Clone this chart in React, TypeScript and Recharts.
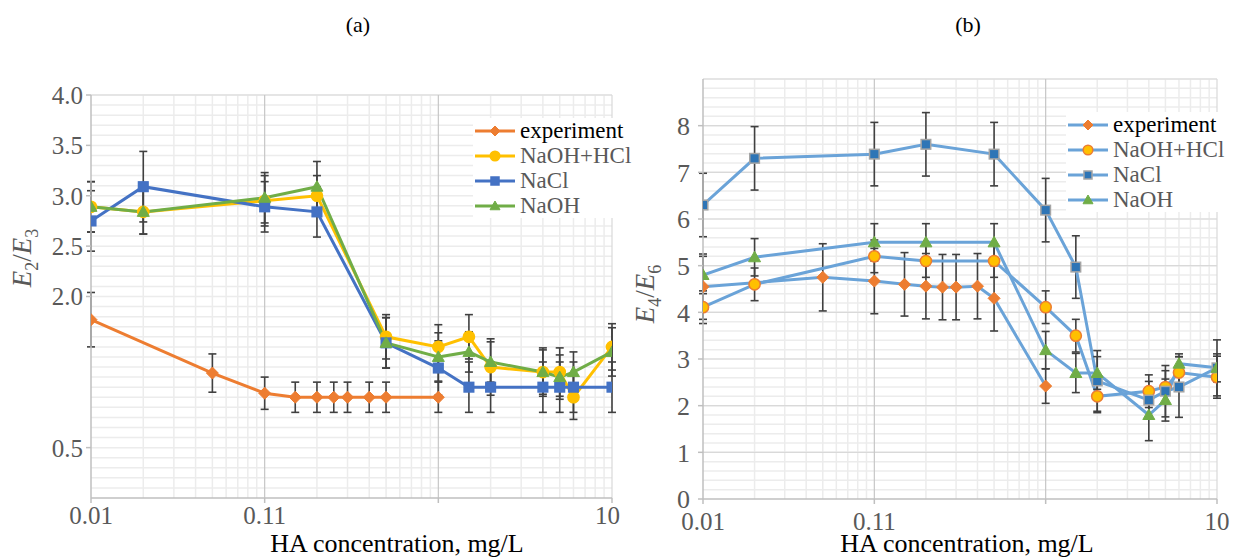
import React from "react";
import { CartesianGrid, ErrorBar, Legend, Line, LineChart, XAxis, YAxis } from "recharts";

const seriesNames = ["experiment", "NaOH+HCl", "NaCl", "NaOH"];
const xTicks = [0.01, 0.1, 1, 10];
const xTickLabels = ["0.01", "0.11", "", "10"];
const aTicks = [0.5, 2.0, 2.5, 3.0, 3.5, 4.0];
const bTicks = [0, 1, 2, 3, 4, 5, 6, 7, 8];

const expX = [0.01, 0.05, 0.1, 0.15, 0.2, 0.25, 0.3, 0.4, 0.5, 1];
const saltX = [0.01, 0.02, 0.1, 0.2, 0.5, 1, 1.5, 2, 4, 5, 6, 10];

// (a) E2/E3
const aExp = [1.77, 1.24, 1.04, 1.0, 1.0, 1.0, 1.0, 1.0, 1.0, 1.0];
const aExpErr = [0.27, 0.19, 0.16, 0.15, 0.15, 0.15, 0.15, 0.15, 0.15, 0.15];
const aHcl = [2.89, 2.84, 2.95, 3.0, 1.6, 1.5, 1.6, 1.3, 1.25, 1.25, 1.0, 1.5];
const aHclErr = [0.25, 0.22, 0.25, 0.2, 0.22, 0.22, 0.22, 0.28, 0.24, 0.24, 0.22, 0.23];
const aNacl = [2.75, 3.09, 2.89, 2.84, 1.54, 1.29, 1.1, 1.1, 1.1, 1.1, 1.1, 1.1];
const aNaclErr = [0.3, 0.35, 0.25, 0.25, 0.25, 0.27, 0.25, 0.25, 0.25, 0.25, 0.25, 0.25];
const aNaoh = [2.89, 2.84, 2.98, 3.09, 1.54, 1.4, 1.45, 1.35, 1.25, 1.2, 1.25, 1.45];
const aNaohErr = [0.25, 0.22, 0.25, 0.25, 0.25, 0.24, 0.2, 0.2, 0.22, 0.22, 0.2, 0.24];

// (b) E4/E6
const bExp = [4.55, 4.75, 4.67, 4.6, 4.56, 4.54, 4.54, 4.56, 4.3, 2.42];
const bExpErr = [0.7, 0.72, 0.7, 0.68, 0.7, 0.7, 0.7, 0.7, 0.7, 0.37];
const bHcl = [4.11, 4.6, 5.2, 5.1, 5.1, 4.11, 3.5, 2.2, 2.31, 2.4, 2.71, 2.61];
const bHclErr = [0.35, 0.35, 0.35, 0.35, 0.35, 0.35, 0.35, 0.35, 0.35, 0.35, 0.4, 0.45];
const bNacl = [6.3, 7.3, 7.39, 7.6, 7.39, 6.19, 4.97, 2.53, 2.12, 2.31, 2.4, 2.81];
const bNaclErr = [0.68, 0.68, 0.68, 0.68, 0.68, 0.68, 0.67, 0.65, 0.4, 0.55, 0.65, 0.6];
const bNaoh = [4.8, 5.18, 5.5, 5.5, 5.5, 3.19, 2.7, 2.7, 1.8, 2.12, 2.9, 2.81];
const bNaohErr = [0.4, 0.4, 0.4, 0.4, 0.4, 0.4, 0.42, 0.35, 0.55, 0.45, 0.15, 0.3];

const rows = (xs: number[], ys: number[], es: number[]) =>
  xs.map((x, i) => ({ x, y: ys[i], err: es[i] }));

// log minor grid positions
const logMinor: number[] = [];
[0.01, 0.1, 1].forEach((d) => {
  for (let k = 2; k <= 9; k++) logMinor.push(+(k * d).toFixed(3));
});
const stepValues = (max: number, step: number) => {
  const out: number[] = [];
  for (let v = step; v <= max + 1e-9; v += step) out.push(+v.toFixed(2));
  return out;
};

const FONT = '"Liberation Serif", "Times New Roman", serif';
const ERR = "#404040";

type Shape = "diamond" | "circle" | "square" | "triangle";

function Marker({ cx, cy, shape, fill, stroke, size }: any) {
  if (cx == null || cy == null) return null;
  const s = size;
  if (shape === "diamond")
    return <polygon points={`${cx},${cy - s} ${cx + s},${cy} ${cx},${cy + s} ${cx - s},${cy}`} fill={fill} stroke={stroke} strokeWidth={1} />;
  if (shape === "circle")
    return <circle cx={cx} cy={cy} r={s * 0.8} fill={fill} stroke={stroke} strokeWidth={1.5} />;
  if (shape === "square")
    return <rect x={cx - s * 0.8} y={cy - s * 0.8} width={s * 1.6} height={s * 1.6} fill={fill} stroke={stroke} strokeWidth={1.5} />;
  return <polygon points={`${cx},${cy - s} ${cx + s},${cy + s * 0.75} ${cx - s},${cy + s * 0.75}`} fill={fill} stroke={stroke} strokeWidth={1} />;
}

interface SeriesStyle {
  line: string;
  shape: Shape;
  fill: string;
  stroke: string;
  size: number;
}

const aStyles: SeriesStyle[] = [
  { line: "#ED7D31", shape: "diamond", fill: "#ED7D31", stroke: "#ED7D31", size: 6 },
  { line: "#FFC000", shape: "circle", fill: "#FFC000", stroke: "#FFC000", size: 7 },
  { line: "#4472C4", shape: "square", fill: "#4472C4", stroke: "#4472C4", size: 6 },
  { line: "#70AD47", shape: "triangle", fill: "#70AD47", stroke: "#70AD47", size: 6 },
];
const bStyles: SeriesStyle[] = [
  { line: "#6AA3D8", shape: "diamond", fill: "#ED7D31", stroke: "#ED7D31", size: 6 },
  { line: "#6AA3D8", shape: "circle", fill: "#FFC000", stroke: "#ED7D31", size: 7 },
  { line: "#6AA3D8", shape: "square", fill: "#2E75B6", stroke: "#A5A5A5", size: 6 },
  { line: "#6AA3D8", shape: "triangle", fill: "#70AD47", stroke: "#70AD47", size: 6 },
];

function LegendBox({ styles }: { styles: SeriesStyle[] }) {
  return (
    <div style={{ background: "#fff", fontFamily: FONT, fontSize: 23, lineHeight: "25px" }}>
      {seriesNames.map((n, i) => (
        <div key={n} style={{ display: "flex", alignItems: "center", height: 25 }}>
          <svg width={44} height={20} style={{ marginRight: 3 }}>
            <line x1={2} y1={10} x2={42} y2={10} stroke={styles[i].line} strokeWidth={3} />
            <Marker cx={22} cy={10} shape={styles[i].shape} fill={styles[i].fill} stroke={styles[i].stroke} size={styles[i].size - 1} />
          </svg>
          <span style={{ color: i === 0 ? "#000" : "#595959", whiteSpace: "nowrap" }}>{n}</span>
        </div>
      ))}
    </div>
  );
}

const tickStyle = { fontFamily: FONT, fontSize: 25, fill: "#595959" };

function Panel({
  width, height, margin, yWidth, yDomain, yTicks, yFmt, hMinor, hMajor, styles, series, legendPos, tickMargin, xTickMargin, yFont,
}: any) {
  return (
    <LineChart width={width} height={height} margin={margin}>
      <CartesianGrid horizontalValues={hMinor} verticalValues={logMinor} stroke="#ececec" strokeWidth={1.5} />
      <CartesianGrid horizontalValues={hMajor} verticalValues={[10]} stroke="#d9d9d9" strokeWidth={1.2} />
      <CartesianGrid horizontal={false} verticalValues={[0.1, 1]} stroke="#c6c6c6" strokeWidth={1.2} />
      <XAxis
        dataKey="x"
        type="number"
        scale="log"
        domain={[0.01, 10]}
        allowDataOverflow
        ticks={xTicks}
        tickFormatter={(v: number) => xTickLabels[xTicks.indexOf(v)] ?? ""}
        tick={tickStyle}
        tickSize={5}
        tickMargin={xTickMargin}
        height={40}
        stroke="#bfbfbf"
        strokeWidth={1.5}
      />
      <YAxis
        type="number"
        domain={yDomain}
        ticks={yTicks}
        interval={0}
        tickFormatter={yFmt}
        tick={{ ...tickStyle, fontSize: yFont }}
        tickSize={5}
        tickMargin={tickMargin}
        width={yWidth}
        stroke="#bfbfbf"
        strokeWidth={1.5}
      />
      {series.map((s: any, i: number) => {
        const st = styles[i];
        return (
          <Line
            key={seriesNames[i]}
            name={seriesNames[i]}
            data={s}
            dataKey="y"
            stroke={st.line}
            strokeWidth={3}
            isAnimationActive={false}
            dot={(p: any) => (
              <Marker key={`${i}-${p.index}`} cx={p.cx} cy={p.cy} shape={st.shape} fill={st.fill} stroke={st.stroke} size={st.size} />
            )}
            activeDot={false}
          >
            <ErrorBar dataKey="err" direction="y" width={4} stroke={ERR} strokeWidth={1.6} />
          </Line>
        );
      })}
      <Legend
        layout="vertical"
        align="center"
        verticalAlign="middle"
        wrapperStyle={{ left: legendPos[0], top: legendPos[1], width: 165 }}
        content={() => <LegendBox styles={styles} />}
      />
    </LineChart>
  );
}

const abs = (s: React.CSSProperties): React.CSSProperties => ({ position: "absolute", fontFamily: FONT, ...s });

export default function App() {
  const aSeries = [
    rows(expX, aExp, aExpErr),
    rows(saltX, aHcl, aHclErr),
    rows(saltX, aNacl, aNaclErr),
    rows(saltX, aNaoh, aNaohErr),
  ];
  const bSeries = [
    rows(expX, bExp, bExpErr),
    rows(saltX, bHcl, bHclErr),
    rows(saltX, bNacl, bNaclErr),
    rows(saltX, bNaoh, bNaohErr),
  ];
  return (
    <div style={{ position: "absolute", left: 0, top: 0, width: 1233, height: 558, background: "#fff" }}>
      <div style={abs({ left: 0, top: 0 })}>
        <Panel
          width={620}
          height={558}
          margin={{ top: 95, right: 8, bottom: 20, left: 0 }}
          yWidth={91}
          yDomain={[0, 4]}
          yTicks={aTicks}
          yFmt={(v: number) => v.toFixed(1)}
          yFont={25}
          tickMargin={3}
          xTickMargin={3}
          hMinor={stepValues(4, 0.1)}
          hMajor={[4]}
          styles={aStyles}
          series={aSeries}
          legendPos={[473, 118]}
        />
      </div>
      <div style={abs({ left: 620, top: 0 })}>
        <Panel
          width={613}
          height={558}
          margin={{ top: 79, right: 16, bottom: 19, left: 0 }}
          yWidth={83}
          yDomain={[0, 9]}
          yTicks={bTicks}
          yFmt={(v: number) => String(v)}
          yFont={26}
          tickMargin={8}
          xTickMargin={8}
          hMinor={stepValues(9, 0.2)}
          hMajor={stepValues(9, 1)}
          styles={bStyles}
          series={bSeries}
          legendPos={[446, 112]}
        />
      </div>
      <div style={abs({ left: 308, top: 12, width: 100, textAlign: "center", fontSize: 22 })}>(a)</div>
      <div style={abs({ left: 918, top: 12, width: 100, textAlign: "center", fontSize: 22 })}>(b)</div>
      <div style={abs({ left: 247, top: 530, width: 300, textAlign: "center", fontSize: 26, lineHeight: "28px" })}>
        HA concentration, mg/L
      </div>
      <div style={abs({ left: 817, top: 530, width: 300, textAlign: "center", fontSize: 26, lineHeight: "28px" })}>
        HA concentration, mg/L
      </div>
      <div
        style={abs({
          left: 25, top: 258, fontSize: 27, color: "#595959", whiteSpace: "nowrap",
          transform: "translate(-50%, -50%) rotate(-90deg)",
        })}
      >
        <i>E</i><sub style={{ fontSize: 18 }}>2</sub>/<i>E</i><sub style={{ fontSize: 18 }}>3</sub>
      </div>
      <div
        style={abs({
          left: 648, top: 294, fontSize: 27, color: "#595959", whiteSpace: "nowrap",
          transform: "translate(-50%, -50%) rotate(-90deg)",
        })}
      >
        <i>E</i><sub style={{ fontSize: 18 }}>4</sub>/<i>E</i><sub style={{ fontSize: 18 }}>6</sub>
      </div>
    </div>
  );
}
